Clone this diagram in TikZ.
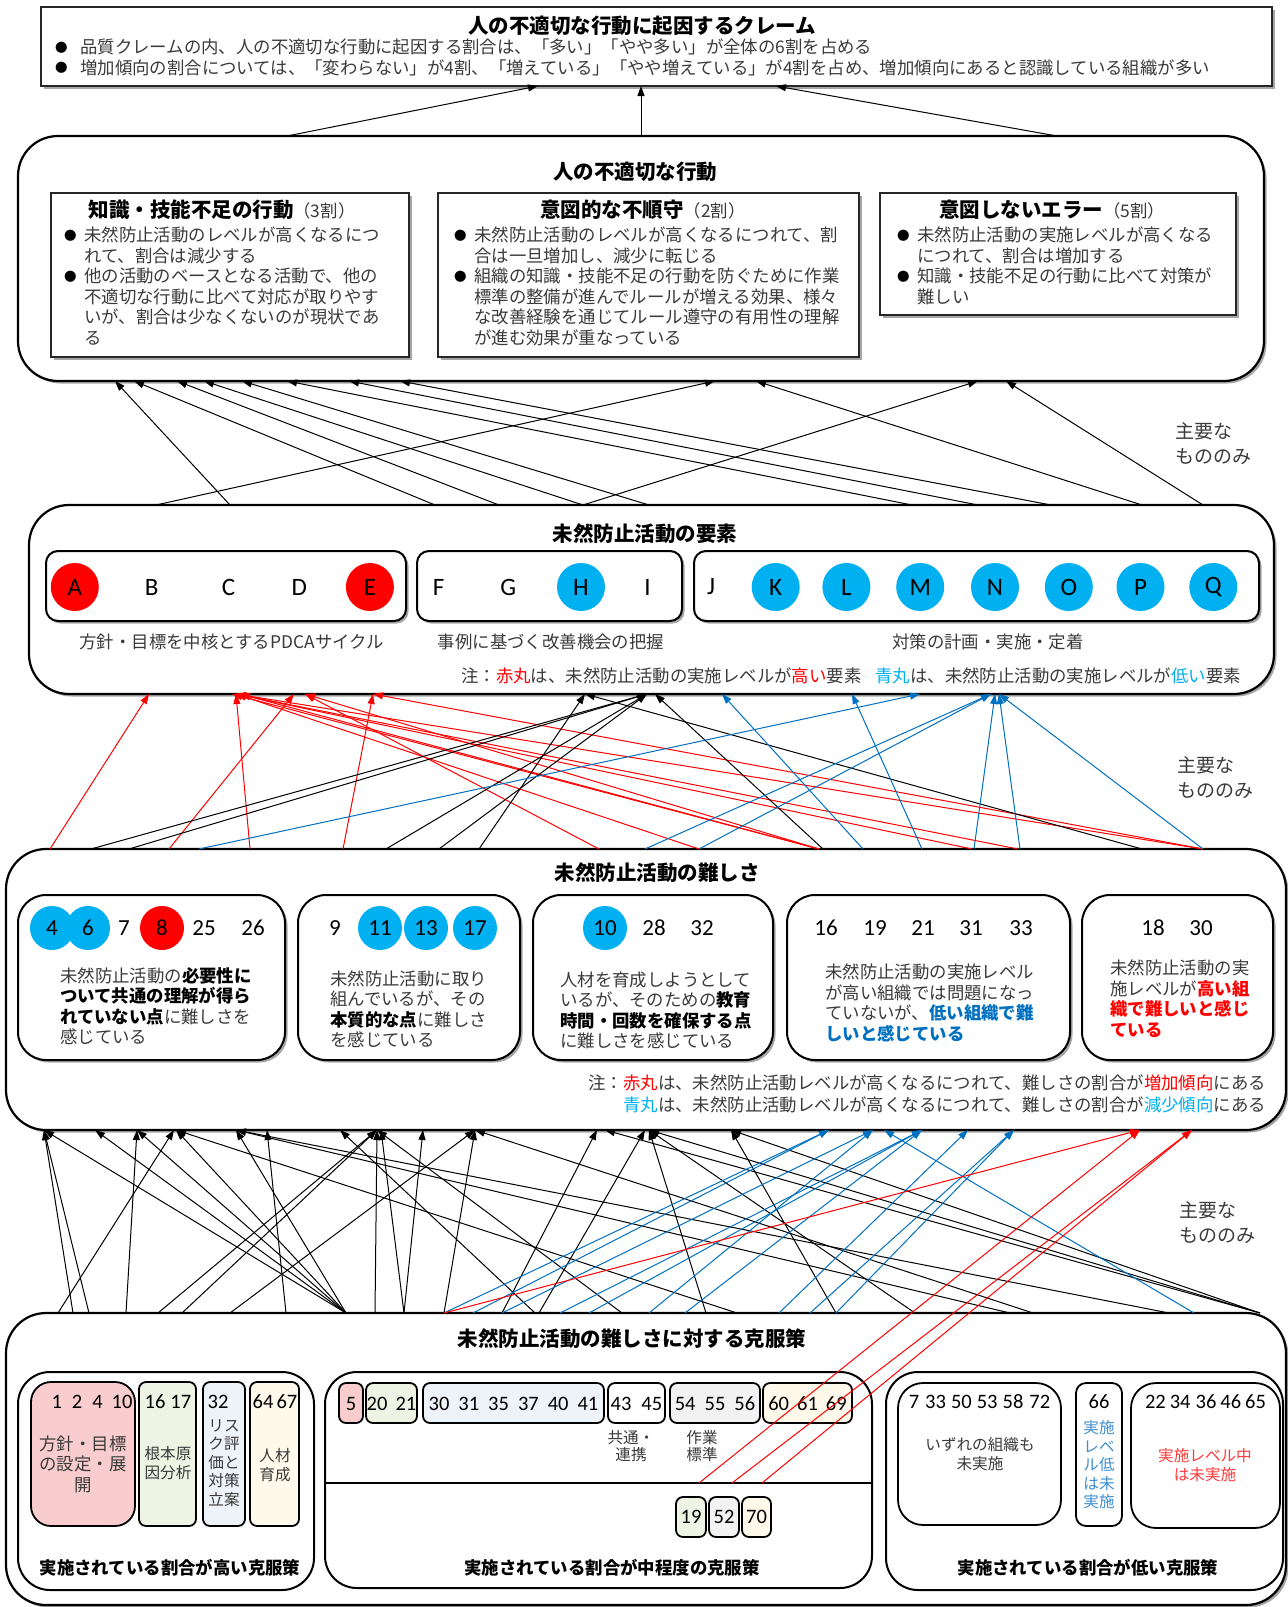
\documentclass[tikz,border=0pt]{standalone}
\usepackage{fontspec}
\setmainfont{Noto Sans CJK JP}
\newfontfamily\calfont{Carlito}
\usetikzlibrary{arrows.meta,shadows}
\definecolor{cred}{HTML}{FF0000}
\definecolor{ccyan}{HTML}{00B0F0}
\definecolor{cblue}{HTML}{0070C0}
\definecolor{tgray}{HTML}{3A3A3A}
\definecolor{fpink}{HTML}{F9CDCD}
\definecolor{fgreen}{HTML}{EEF3E4}
\definecolor{fblue}{HTML}{EEF3FA}
\definecolor{fyellow}{HTML}{FEF9EA}
\definecolor{fgray}{HTML}{F2F2F2}
\definecolor{lblue}{HTML}{3D8FD1}
\definecolor{lred}{HTML}{FF3B3B}
\newcommand\fs{\fontsize{17.4}{20.5}\selectfont}
\newcommand\fsm{\fontsize{15.6}{18.5}\selectfont}
\newcommand\ftt{\fontsize{20.5}{24}\selectfont\bfseries}
\newcommand\fnum{\calfont\fontsize{23}{23}\selectfont}
\newcommand\fnb{\calfont\fontsize{20.5}{20.5}\selectfont}
\newcommand\flet{\calfont\fontsize{25}{25}\selectfont}
\newcommand\st{\rule{0pt}{15.5pt}}
\newcommand\bdot{\raisebox{1.5pt}{\fontsize{12.5}{12.5}\selectfont\color{black}●}}
\newcommand\bl{\makebox[21pt][l]{\hspace{1pt}\bdot}}
\newcommand\ind{\hspace*{21pt}}
\newcommand\bk[1]{\textbf{\textcolor{black}{#1}}}
\newcommand\bb[1]{\textbf{\textcolor{cblue}{#1}}}
\newcommand\br[1]{\textbf{\textcolor{cred}{#1}}}
\newcommand\bx[6][]{\node[#1,anchor=north west,inner sep=0pt,outer sep=0pt,minimum width={#5pt-#3pt},minimum height={#6pt-#4pt}] (#2) at (#3,#4) {};}
\newcommand\cn[5][black]{\draw[conn,#1] (#3.north -| #2,0) -- (#5.south -| #4,0);}
\tikzset{
 shd/.style={drop shadow={shadow xshift=2.5pt,shadow yshift=-2.5pt,fill=black!35,opacity=1}},
 sq/.style={draw=black!85,line width=1.2pt,fill=white,shd},
 rb/.style={draw=black,line width=2.2pt,fill=white,rounded corners=40pt,shd},
 eb/.style={draw=black,line width=2pt,fill=white,rounded corners=12pt,shd},
 db/.style={draw=black,line width=2pt,fill=white,rounded corners=28pt,shd},
 gb/.style={draw=black,line width=2pt,fill=white,rounded corners=32pt},
 sb/.style={draw=black,line width=1.8pt,rounded corners=7pt},
 ttl/.style={inner sep=0pt,font=\ftt,text=black},
 txt/.style={inner sep=0pt,font=\fs,text=tgray,align=left,anchor=north west},
 ctx/.style={inner sep=0pt,font=\fsm,text=tgray,align=center},
 one/.style={inner sep=0pt,font=\fs,text=tgray},
 rc/.style={circle,fill=cred,inner sep=0pt,minimum size=48pt},
 bc/.style={circle,fill=ccyan,inner sep=0pt,minimum size=48pt},
 lt/.style={inner sep=0pt,font=\flet},
 nm/.style={inner sep=0pt,font=\fnum},
 nb/.style={inner sep=0pt,font=\fnb},
 conn/.style={line width=1pt,-{Triangle[length=10pt,width=7pt]}},
}
\begin{document}
\begin{tikzpicture}[x=1pt,y=-1pt]
\useasboundingbox (0,0) rectangle (1288,1607);
\fill[white] (0,0) rectangle (1288,1607);
% ---------- boxes
\bx[sq]{cl}{41}{7}{1272}{86}
\bx[rb]{act}{18}{136}{1264}{381}
\bx[sq]{k1}{51}{193}{409}{357}
\bx[sq]{k2}{438}{193}{859}{357}
\bx[sq]{k3}{880}{193}{1236}{315}
\bx[rb]{elem}{29}{505}{1274}{694}
\bx[eb]{e1}{46}{551}{406}{621}
\bx[eb]{e2}{417}{551}{682}{621}
\bx[eb]{e3}{694}{551}{1259}{621}
\bx[rb]{diff}{6}{849}{1286}{1130}
\bx[db]{d1}{18}{895}{285}{1060}
\bx[db]{d2}{298}{895}{520}{1060}
\bx[db]{d3}{533}{895}{773}{1060}
\bx[db]{d4}{787}{895}{1070}{1060}
\bx[db]{d5}{1082}{895}{1273}{1060}
\bx[rb]{sol}{6}{1313}{1286}{1605}
\bx[gb]{g1}{18}{1372}{314}{1590}
\bx[gb]{g2}{325}{1372}{872}{1588}
\bx[gb]{g3}{886}{1372}{1283}{1590}
\bx[sb,fill=fpink,rounded corners=20pt]{p1}{31}{1382}{135}{1526}
\bx[sb,fill=fgreen]{p2}{139}{1382}{196}{1526}
\bx[sb,fill=fblue]{p3}{203}{1382}{245}{1526}
\bx[sb,fill=fyellow]{p4}{250}{1382}{299}{1526}
\bx[sb,fill=fpink]{m1}{339}{1383}{363}{1423}
\bx[sb,fill=fgreen]{m2}{366}{1383}{417}{1423}
\bx[sb,fill=fblue]{m3}{423}{1383}{604}{1423}
\bx[sb,fill=white]{m4}{608}{1383}{665}{1423}
\bx[sb,fill=fgray]{m5}{670}{1383}{760}{1423}
\bx[sb,fill=fyellow]{m6}{763}{1383}{852}{1423}
\bx[sb,fill=fgreen]{m7}{676}{1497}{706}{1537}
\bx[sb,fill=fgray]{m8}{709}{1497}{739}{1537}
\bx[sb,fill=fyellow]{m9}{742}{1497}{771}{1537}
\bx[sb,rounded corners=25pt]{l1}{898}{1383}{1061}{1525}
\bx[sb,rounded corners=10pt]{l2}{1076}{1383}{1122}{1526}
\bx[sb,rounded corners=25pt]{l3}{1131}{1383}{1280}{1528}
\coordinate (dvL) at (325,1483);
\coordinate (dvR) at (872,1483);
\draw[line width=1.8pt] (dvL) -- (dvR);
% ---------- top box
\node[ttl] (clT) at (642,26) {人の不適切な行動に起因するクレーム};
\node[txt] (clB) at (55,38) {\st\makebox[25pt][l]{\bdot}品質クレームの内、人の不適切な行動に起因する割合は、「多い」「やや多い」が全体の6割を占める\\\makebox[25pt][l]{\bdot}増加傾向の割合については、「変わらない」が4割、「増えている」「やや増えている」が4割を占め、増加傾向にあると認識している組織が多い};
% ---------- act
\node[ttl] (actT) at (635,172) {人の不適切な行動};
\node[ttl] (k1T) at (222,210) {知識・技能不足の行動{\fs\mdseries\color{tgray}（3割）}};
\node[ttl] (k2T) at (643,210) {意図的な不順守{\fs\mdseries\color{tgray}（2割）}};
\node[ttl] (k3T) at (1052,210) {意図しないエラー{\fs\mdseries\color{tgray}（5割）}};
\node[txt] (k1B) at (63,226) {\st\bl 未然防止活動のレベルが高くなるにつ\\\ind れて、割合は減少する\\\bl 他の活動のベースとなる活動で、他の\\\ind 不適切な行動に比べて対応が取りやす\\\ind いが、割合は少なくないのが現状であ\\\ind る};
\node[txt] (k2B) at (453,226) {\st\bl 未然防止活動のレベルが高くなるにつれて、割\\\ind 合は一旦増加し、減少に転じる\\\bl 組織の知識・技能不足の行動を防ぐために作業\\\ind 標準の整備が進んでルールが増える効果、様々\\\ind な改善経験を通じてルール遵守の有用性の理解\\\ind が進む効果が重なっている};
\node[txt] (k3B) at (896,226) {\st\bl 未然防止活動の実施レベルが高くなる\\\ind につれて、割合は増加する\\\bl 知識・技能不足の行動に比べて対策が\\\ind 難しい};
% ---------- elements
\node[ttl] (elT) at (645,534) {未然防止活動の要素};
\node[rc,lt] (cA) at (74.8,587) {A};
\node[lt] (cB) at (151.7,587) {B};
\node[lt] (cC) at (228.5,587) {C};
\node[lt] (cD) at (299.2,587) {D};
\node[rc,lt] (cE) at (369.9,587) {E};
\node[lt] (cF) at (438.6,587) {F};
\node[lt] (cG) at (508.3,587) {G};
\node[bc,lt] (cH) at (581,587) {H};
\node[lt] (cI) at (647.6,587) {I};
\node[lt] (cJ) at (711.1,587) {J};
\node[bc,lt] (cK) at (775.7,587) {K};
\node[bc,lt] (cL) at (846.4,587) {L};
\node[bc,lt] (cM) at (920.2,587) {M};
\node[bc,lt] (cN) at (995,587) {N};
\node[bc,lt] (cO) at (1068.8,587) {O};
\node[bc,lt] (cP) at (1140.5,587) {P};
\node[bc,lt] (cQ) at (1213.3,587) {Q};
\node[one] (lb1) at (231.6,641.5) {方針・目標を中核とするPDCAサイクル};
\node[one] (lb2) at (551,641.5) {事例に基づく改善機会の把握};
\node[one] (lb3) at (988,641.5) {対策の計画・実施・定着};
\node[one,anchor=east] (elN) at (1241,676) {注：\textcolor{cred}{赤丸}は、未然防止活動の実施レベルが\textcolor{cred}{高い}要素\hspace{14pt}\textcolor{ccyan}{青丸}は、未然防止活動の実施レベルが\textcolor{ccyan}{低い}要素};
% ---------- difficulties
\node[ttl] (dfT) at (657,873) {未然防止活動の難しさ};
\node[bc,nm,minimum size=44pt] (n4) at (52,928) {4};
\node[bc,nm,minimum size=44pt] (n6) at (88,928) {6};
\node[nm] (n7) at (124,928) {7};
\node[rc,nm,minimum size=44pt] (n8) at (162,928) {8};
\node[nm] (n25) at (204,928) {25};
\node[nm] (n26) at (253,928) {26};
\node[nm] (n9) at (335,928) {9};
\node[bc,nm,minimum size=44pt] (n11) at (380,928) {11};
\node[bc,nm,minimum size=44pt] (n13) at (426,928) {13};
\node[bc,nm,minimum size=44pt] (n17) at (475,928) {17};
\node[bc,nm,minimum size=44pt] (n10) at (605,928) {10};
\node[nm] (n28) at (654,928) {28};
\node[nm] (n32) at (702,928) {32};
\node[nm] (n16) at (826,928) {16};
\node[nm] (n19) at (875,928) {19};
\node[nm] (n21) at (923,928) {21};
\node[nm] (n31) at (971,928) {31};
\node[nm] (n33) at (1021,928) {33};
\node[nm] (n18) at (1153,928) {18};
\node[nm] (n30) at (1201,928) {30};
\node[txt] (d1B) at (60,966.6) {\st 未然防止活動の\bk{必要性に}\\\bk{ついて共通の理解が得ら}\\\bk{れていない点}に難しさを\\感じている};
\node[txt] (d2B) at (330,969.6) {\st 未然防止活動に取り\\組んでいるが、その\\\bk{本質的な点}に難しさ\\を感じている};
\node[txt] (d3B) at (560,970.6) {\st 人材を育成しようとして\\いるが、そのための\bk{教育}\\\bk{時間・回数を確保する点}\\に難しさを感じている};
\node[txt] (d4B) at (825,963) {\st 未然防止活動の実施レベル\\が高い組織では問題になっ\\ていないが、\bb{低い組織で難}\\\bb{しいと感じている}};
\node[txt] (d5B) at (1110,959) {\st 未然防止活動の実\\施レベルが\br{高い組}\\\br{織で難しいと感じ}\\\br{ている}};
\node[one,anchor=east] (dfN1) at (1266,1083) {注：\textcolor{cred}{赤丸}は、未然防止活動レベルが高くなるにつれて、難しさの割合が\textcolor{cred}{増加傾向}にある};
\node[one,anchor=east] (dfN2) at (1266,1105) {\textcolor{ccyan}{青丸}は、未然防止活動レベルが高くなるにつれて、難しさの割合が\textcolor{ccyan}{減少傾向}にある};
% ---------- solutions
\node[ttl] (soT) at (632,1339) {未然防止活動の難しさに対する克服策};
\node[one,font=\fs\bfseries,text=black] (g1L) at (170,1568) {実施されている割合が高い克服策};
\node[one,font=\fs\bfseries,text=black] (g2L) at (612,1568) {実施されている割合が中程度の克服策};
\node[one,font=\fs\bfseries,text=black] (g3L) at (1088,1568) {実施されている割合が低い克服策};
\node[nb] (p1n) at (92,1402) {1\hspace{10pt}2\hspace{10pt}4\hspace{9pt}10};
\node[nb] (p2n) at (168,1402) {16\hspace{5pt}17};
\node[nb] (p3n) at (218,1402) {32};
\node[nb] (p4n) at (275,1402) {64\hspace{3pt}67};
\node[ctx,font=\fs] (p1t) at (83,1464) {方針・目標\\の設定・展\\開};
\node[ctx] (p2t) at (168,1463) {根本原\\因分析};
\node[ctx] (p3t) at (224,1463) {リス\\ク評\\価と\\対策\\立案};
\node[ctx] (p4t) at (275,1465) {人材\\育成};
\node[nb] (m1n) at (351,1404) {5};
\node[nb] (m2n) at (391.5,1404) {20\hspace{8pt}21};
\node[nb] (m3n) at (513.5,1404) {30\hspace{9pt}31\hspace{9pt}35\hspace{9pt}37\hspace{9pt}40\hspace{9pt}41};
\node[nb] (m4n) at (636.5,1404) {43\hspace{10pt}45};
\node[nb] (m5n) at (715,1404) {54\hspace{9pt}55\hspace{9pt}56};
\node[nb] (m6n) at (807.5,1404) {60\hspace{8pt}61\hspace{8pt}69};
\node[ctx,font=\fontsize{15.6}{17}\selectfont] (m4t) at (631,1446) {共通・\\連携};
\node[ctx,font=\fontsize{15.6}{17}\selectfont] (m5t) at (702,1446) {作業\\標準};
\node[nb] (m7n) at (691,1517) {19};
\node[nb] (m8n) at (724,1517) {52};
\node[nb] (m9n) at (756.5,1517) {70};
\node[nb] (l1n) at (979.5,1402) {7\hspace{6pt}33\hspace{5pt}50\hspace{5pt}53\hspace{5pt}58\hspace{6pt}72};
\node[ctx] (l1t) at (980,1454) {いずれの組織も\\未実施};
\node[nb] (l2n) at (1099,1402) {66};
\node[ctx,text=lblue] (l2t) at (1099,1465) {実施\\レベ\\ル低\\は未\\実施};
\node[nb] (l3n) at (1205.5,1402) {22\hspace{4pt}34\hspace{5pt}36\hspace{4pt}46\hspace{4pt}65};
\node[ctx,text=lred] (l3t) at (1205,1465) {実施レベル中\\は未実施};
% ---------- side labels
\node[txt,font=\fontsize{19}{25}\selectfont] (mj1) at (1175,421.2) {\rule{0pt}{17pt}主要な\\もののみ};
\node[txt,font=\fontsize{19}{25}\selectfont] (mj2) at (1177,755.2) {\rule{0pt}{17pt}主要な\\もののみ};
\node[txt,font=\fontsize{19}{25}\selectfont] (mj3) at (1179,1200.2) {\rule{0pt}{17pt}主要な\\もののみ};
% ---------- connectors: act -> claim
\cn{287}{act}{538}{cl}
\cn{641}{act}{641}{cl}
\cn{1057}{act}{776}{cl}
% elem -> act
\cn{230}{elem}{115}{act}
\cn{156}{elem}{715}{act}
\cn{435}{elem}{134}{act}
\cn{499}{elem}{177}{act}
\cn{583}{elem}{204}{act}
\cn{583}{elem}{978}{act}
\cn{649}{elem}{242}{act}
\cn{912}{elem}{287}{act}
\cn{978}{elem}{349}{act}
\cn{1051}{elem}{400}{act}
\cn{1142}{elem}{756}{act}
\cn{1203}{elem}{1006}{act}
% diff -> elem
\cn[cred]{50}{diff}{149}{elem}
\cn[cred]{169}{diff}{294}{elem}
\cn[cred]{250}{diff}{236}{elem}
\cn[cred]{343}{diff}{373}{elem}
\cn[cred]{599}{diff}{305}{elem}
\cn[cred]{699}{diff}{236}{elem}
\cn[cred]{819}{diff}{232}{elem}
\cn[cred]{819}{diff}{240}{elem}
\cn[cred]{819}{diff}{305}{elem}
\cn[cred]{972}{diff}{236}{elem}
\cn[cred]{1018}{diff}{236}{elem}
\cn[cred]{1203}{diff}{236}{elem}
\cn[cred]{1203}{diff}{373}{elem}
\cn{91}{diff}{647}{elem}
\cn{129}{diff}{647}{elem}
\cn{386}{diff}{647}{elem}
\cn{439}{diff}{647}{elem}
\cn{479}{diff}{585}{elem}
\cn{823}{diff}{655}{elem}
\cn{1142}{diff}{585}{elem}
\cn[cblue]{199}{diff}{920}{elem}
\cn[cblue]{645}{diff}{991}{elem}
\cn[cblue]{699}{diff}{991}{elem}
\cn[cblue]{863}{diff}{722}{elem}
\cn[cblue]{922}{diff}{852}{elem}
\cn[cblue]{974}{diff}{995}{elem}
\cn[cblue]{1020}{diff}{999}{elem}
\cn[cblue]{1203}{diff}{999}{elem}
% sol -> diff
\cn{58}{sol}{174}{diff}
\cn{73}{sol}{44}{diff}
\cn{89}{sol}{44}{diff}
\cn{126}{sol}{137}{diff}
\cn{158}{sol}{377}{diff}
\cn{182}{sol}{377}{diff}
\cn{230}{sol}{475}{diff}
\cn{286}{sol}{267}{diff}
\cn{346}{sol}{44}{diff}
\cn{346}{sol}{95}{diff}
\cn{346}{sol}{137}{diff}
\cn{346}{sol}{176}{diff}
\cn{346}{sol}{236}{diff}
\cn{375}{sol}{377}{diff}
\cn{404}{sol}{381}{diff}
\cn{404}{sol}{423}{diff}
\cn{444}{sol}{475}{diff}
\cn{502}{sol}{597}{diff}
\cn{539}{sol}{645}{diff}
\cn{535}{sol}{340}{diff}
\cn{622}{sol}{377}{diff}
\cn{706}{sol}{649}{diff}
\cn{915}{sol}{649}{diff}
\cn{836}{sol}{731}{diff}
\cn{737}{sol}{176}{diff}
\cn{1010}{sol}{236}{diff}
\cn{1169}{sol}{236}{diff}
\cn{1033}{sol}{475}{diff}
\cn{1260}{sol}{605}{diff}
\cn{1260}{sol}{731}{diff}
\cn{1260}{sol}{649}{diff}
\cn[cblue]{444}{sol}{829}{diff}
\cn[cblue]{473}{sol}{829}{diff}
\cn[cblue]{502}{sol}{873}{diff}
\cn[cblue]{560}{sol}{922}{diff}
\cn[cblue]{589}{sol}{922}{diff}
\cn[cblue]{649}{sol}{873}{diff}
\cn[cblue]{685}{sol}{922}{diff}
\cn[cblue]{779}{sol}{968}{diff}
\cn[cblue]{810}{sol}{1014}{diff}
\cn[cblue]{836}{sol}{1014}{diff}
\cn[cblue]{1194}{sol}{884}{diff}
\cn[cred]{444}{sol}{1140}{diff}
\draw[conn,cred] (dvL -| 699,0) -- (diff.south -| 1140,0);
\draw[conn,cred] (dvL -| 732,0) -- (diff.south -| 1192,0);
\draw[conn,cred] (dvL -| 762,0) -- (diff.south -| 1192,0);
\end{tikzpicture}
\end{document}
